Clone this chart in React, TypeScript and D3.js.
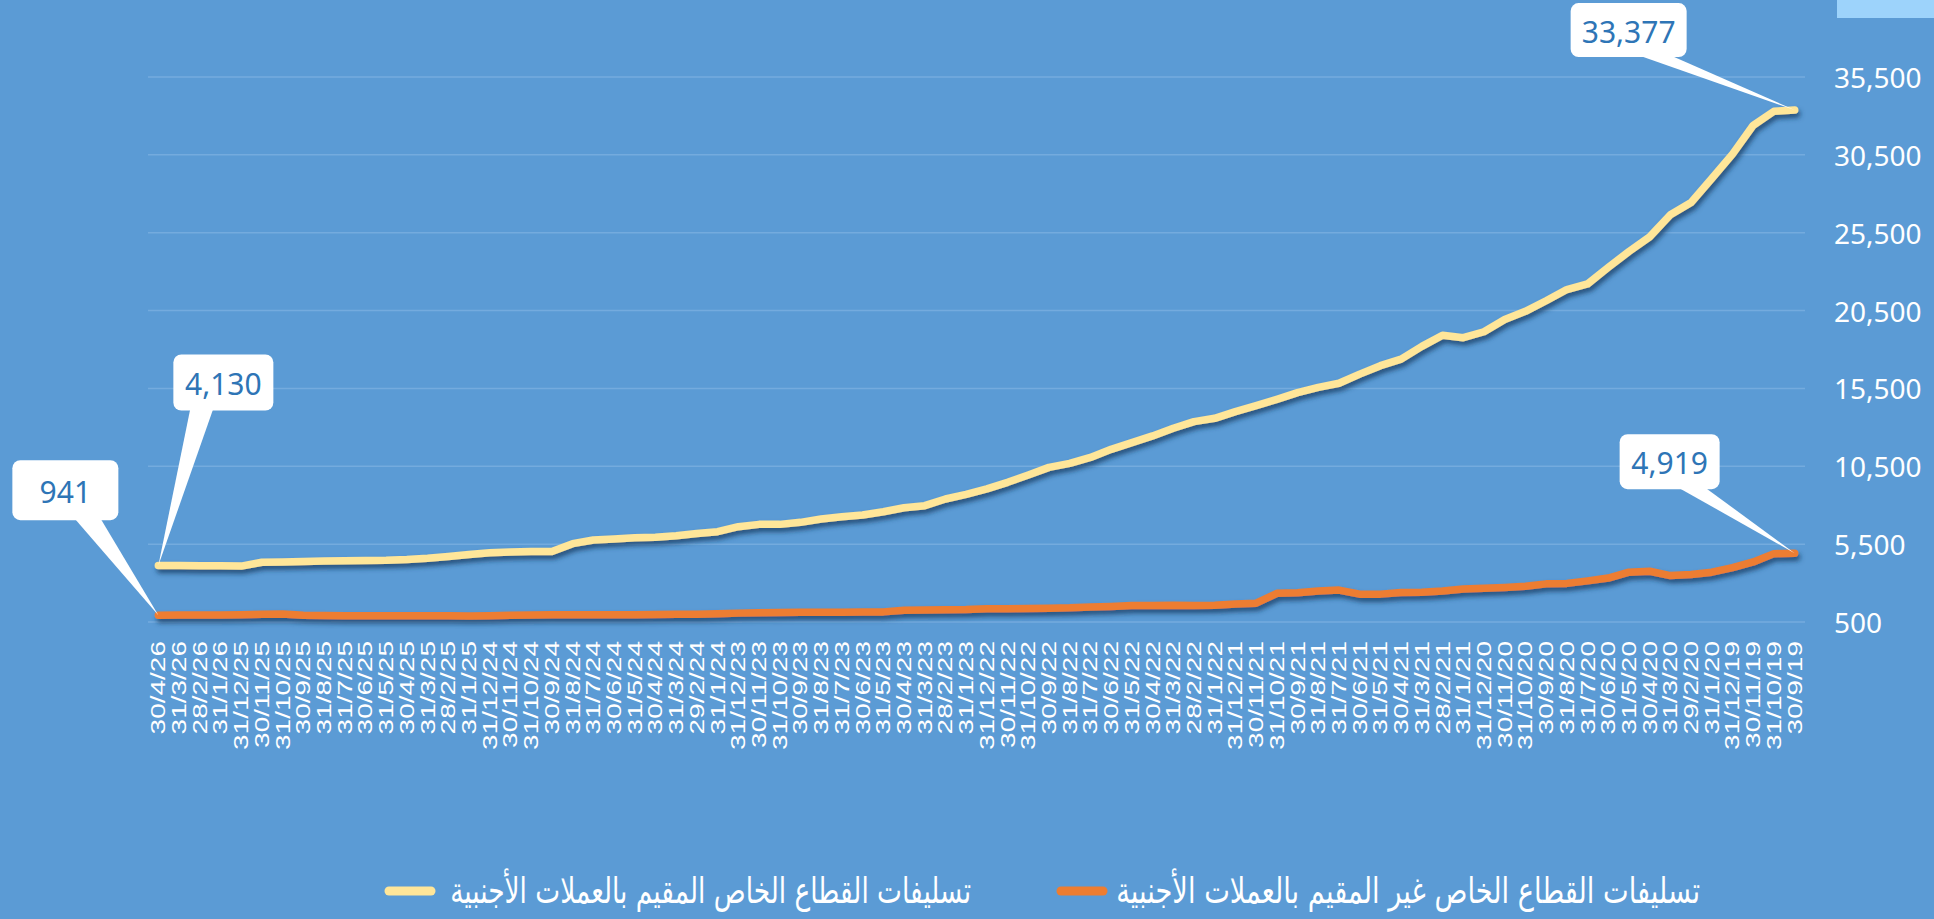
import React, { useEffect, useRef } from "react";
import * as d3 from "d3";

// categories, newest first (as drawn left to right)
const dates = [
  "30/4/26", "31/3/26", "28/2/26", "31/1/26",
  "31/12/25", "30/11/25", "31/10/25", "30/9/25", "31/8/25", "31/7/25", "30/6/25", "31/5/25", "30/4/25", "31/3/25", "28/2/25", "31/1/25",
  "31/12/24", "30/11/24", "31/10/24", "30/9/24", "31/8/24", "31/7/24", "30/6/24", "31/5/24", "30/4/24", "31/3/24", "29/2/24", "31/1/24",
  "31/12/23", "30/11/23", "31/10/23", "30/9/23", "31/8/23", "31/7/23", "30/6/23", "31/5/23", "30/4/23", "31/3/23", "28/2/23", "31/1/23",
  "31/12/22", "30/11/22", "31/10/22", "30/9/22", "31/8/22", "31/7/22", "30/6/22", "31/5/22", "30/4/22", "31/3/22", "28/2/22", "31/1/22",
  "31/12/21", "30/11/21", "31/10/21", "30/9/21", "31/8/21", "31/7/21", "30/6/21", "31/5/21", "30/4/21", "31/3/21", "28/2/21", "31/1/21",
  "31/12/20", "30/11/20", "31/10/20", "30/9/20", "31/8/20", "31/7/20", "30/6/20", "31/5/20", "30/4/20", "31/3/20", "29/2/20", "31/1/20",
  "31/12/19", "30/11/19", "31/10/19", "30/9/19",
];

// resident private sector loans in foreign currency
const residentLoans = [
  4130, 4130, 4110, 4110, 4090, 4340, 4360, 4390, 4410, 4430,
  4450, 4470, 4520, 4600, 4710, 4840, 4940, 4990, 5030, 5030,
  5530, 5770, 5830, 5910, 5940, 6040, 6190, 6300, 6620, 6770,
  6770, 6900, 7110, 7260, 7370, 7580, 7840, 7970, 8400, 8700,
  9050, 9470, 9940, 10430, 10690, 11070, 11590, 12020, 12450, 12940,
  13370, 13580, 14010, 14400, 14800, 15230, 15570, 15830, 16420, 16960,
  17380, 18200, 18920, 18760, 19140, 19930, 20450, 21130, 21850, 22210,
  23270, 24290, 25230, 26650, 27440, 28980, 30550, 32400, 33300, 33377,
];

// non-resident private sector loans in foreign currency
const nonResidentLoans = [
  941, 945, 950, 955, 965, 990, 1020, 930, 910, 905,
  900, 900, 900, 895, 895, 890, 900, 930, 950, 960,
  970, 960, 965, 970, 980, 990, 1000, 1030, 1070, 1100,
  1110, 1120, 1125, 1130, 1135, 1150, 1260, 1270, 1280, 1300,
  1350, 1350, 1370, 1390, 1410, 1460, 1500, 1560, 1560, 1580,
  1560, 1580, 1650, 1710, 2340, 2380, 2490, 2550, 2290, 2290,
  2390, 2410, 2490, 2620, 2670, 2720, 2790, 2950, 2980, 3140,
  3320, 3700, 3760, 3480, 3550, 3700, 3990, 4360, 4890, 4919,
];

const yTicks = [500, 5500, 10500, 15500, 20500, 25500, 30500, 35500];

const seriesNames = [
  "تسليفات القطاع الخاص المقيم بالعملات الأجنبية",
  "تسليفات القطاع الخاص غير المقيم بالعملات الأجنبية",
];

const W = 1934;
const H = 919;
const BG = "#5b9bd5";
const YELLOW = "#ffe699";
const ORANGE = "#ed7d31";

const App = () => {
  const svgRef = useRef(null);

  useEffect(() => {
    const svg = d3.select(svgRef.current);
    svg.selectAll("*").remove();

    const x = d3.scalePoint().domain(dates).range([148, 1805]).padding(0.5);
    const y = d3.scaleLinear().domain([500, 35500]).range([622, 77]);

    const defs = svg.append("defs");
    const f = defs.append("filter").attr("id", "shadow")
      .attr("x", "-5%").attr("y", "-20%").attr("width", "110%").attr("height", "140%");
    f.append("feDropShadow")
      .attr("dx", 2).attr("dy", 4).attr("stdDeviation", 2.5)
      .attr("flood-color", "#1f3f66").attr("flood-opacity", 0.8);

    svg.append("rect").attr("width", W).attr("height", H).attr("fill", BG);
    svg.append("rect").attr("x", 1837).attr("y", 0).attr("width", 97).attr("height", 18).attr("fill", "#9dd3fb");

    // gridlines
    svg.append("g").selectAll("line").data(yTicks).enter().append("line")
      .attr("x1", 148).attr("x2", 1805)
      .attr("y1", d => y(d)).attr("y2", d => y(d))
      .attr("stroke", "#74abde").attr("stroke-width", 1.5);

    // y labels
    svg.append("g").selectAll("text").data(yTicks).enter().append("text")
      .attr("x", 1834).attr("y", d => y(d))
      .attr("dominant-baseline", "central")
      .attr("fill", "#ffffff")
      .style("font-family", "'Noto Sans', sans-serif")
      .style("font-size", "28px")
      .text(d => d3.format(",")(d));

    // x labels
    svg.append("g").selectAll("text").data(dates).enter().append("text")
      .attr("transform", d => `translate(${x(d)},641) rotate(-90) scale(1.4,1)`)
      .attr("text-anchor", "end")
      .attr("dominant-baseline", "central")
      .attr("fill", "#ffffff")
      .style("font-family", "'Liberation Sans', Arial, sans-serif")
      .style("font-size", "20px")
      .text(d => d);

    const line = (vals) => d3.line().x((_, i) => x(dates[i])).y(d => y(d))(vals);

    svg.append("path").attr("d", line(residentLoans))
      .attr("fill", "none").attr("stroke", YELLOW).attr("stroke-width", 7.5)
      .attr("stroke-linejoin", "round").attr("stroke-linecap", "round")
      .attr("filter", "url(#shadow)");
    svg.append("path").attr("d", line(nonResidentLoans))
      .attr("fill", "none").attr("stroke", ORANGE).attr("stroke-width", 7.5)
      .attr("stroke-linejoin", "round").attr("stroke-linecap", "round")
      .attr("filter", "url(#shadow)");

    // data callouts: box offset from point, plus pointer base on box bottom
    const last = dates.length - 1;
    const callouts = [
      { v: nonResidentLoans[0], i: 0, bx: -146, by: -155, w: 106, h: 60, b1: -84, b2: -58 },
      { v: residentLoans[0], i: 0, bx: 15, by: -211, w: 100, h: 56, b1: 32, b2: 55 },
      { v: residentLoans[last], i: last, bx: -224, by: -107, w: 116, h: 54, b1: -157, b2: -125 },
      { v: nonResidentLoans[last], i: last, bx: -175, by: -119, w: 100, h: 55, b1: -117, b2: -90 },
    ];
    callouts.forEach(c => {
      const px = x(dates[c.i]);
      const py = y(c.v);
      const g = svg.append("g");
      const bottom = py + c.by + c.h;
      g.append("path")
        .attr("d", `M${px + c.b1},${bottom - 2} L${px},${py} L${px + c.b2},${bottom - 2} Z`)
        .attr("fill", "#ffffff");
      g.append("rect")
        .attr("x", px + c.bx).attr("y", py + c.by)
        .attr("width", c.w).attr("height", c.h).attr("rx", 8)
        .attr("fill", "#ffffff");
      g.append("text")
        .attr("x", px + c.bx + c.w / 2).attr("y", py + c.by + c.h / 2 + 1)
        .attr("text-anchor", "middle").attr("dominant-baseline", "central")
        .attr("fill", "#2e75b6")
        .style("font-family", "'Noto Sans', sans-serif")
        .style("font-size", "30px")
        .text(d3.format(",")(c.v));
    });

    // legend
    const legend = [
      { name: seriesNames[0], color: YELLOW, sx: 385, right: 971, width: 521 },
      { name: seriesNames[1], color: ORANGE, sx: 1057, right: 1700, width: 584 },
    ];
    legend.forEach(l => {
      svg.append("line")
        .attr("x1", l.sx + 4).attr("x2", l.sx + 46)
        .attr("y1", 891).attr("y2", 891)
        .attr("stroke", l.color).attr("stroke-width", 9).attr("stroke-linecap", "round");
      const t = svg.append("text")
        .attr("text-anchor", "end")
        .attr("fill", "#ffffff")
        .style("font-family", "'DejaVu Sans', sans-serif")
        .style("font-size", "36px")
        .text(l.name);
      const w = t.node().getComputedTextLength() || l.width;
      t.attr("transform", `translate(${l.right},903) scale(${l.width / w},1)`);
    });
  }, []);

  return (
    <svg ref={svgRef} width={W} height={H}
      style={{ position: "absolute", left: 0, top: 0, display: "block" }} />
  );
};

export default App;
